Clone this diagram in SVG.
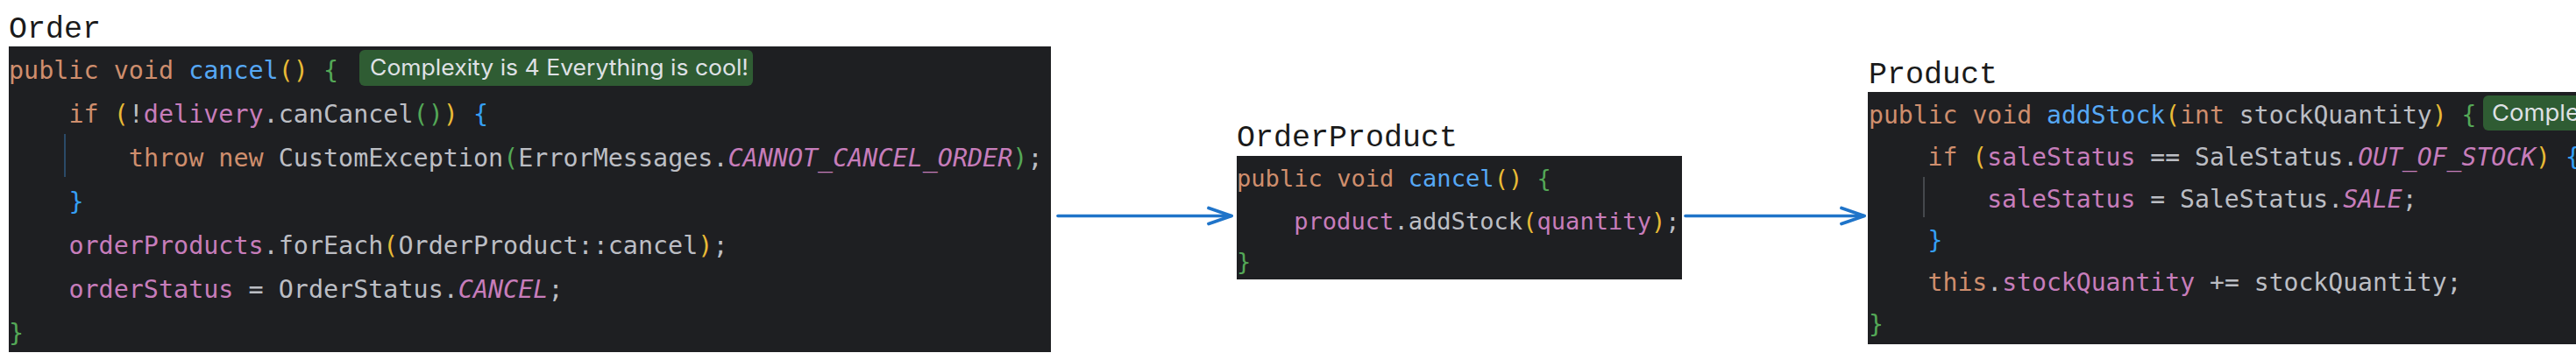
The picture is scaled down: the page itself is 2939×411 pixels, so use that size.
<svg xmlns="http://www.w3.org/2000/svg" width="2939" height="411" viewBox="0 0 2939 411">
  <style>
    .title { font-family: "Liberation Mono", "DejaVu Sans Mono", monospace; font-size: 35px; fill: #1a1a1a; }
    .code { font-family: "DejaVu Sans Mono", "Liberation Mono", monospace; fill: #bcbec4; white-space: pre; }
    .box { fill: #1e1f22; }
    .kw { fill: #cf8e6d; }
    .fn { fill: #56a8f5; }
    .fld { fill: #c77dbb; }
    .cst { fill: #c77dbb; font-style: italic; }
    .y { fill: #e8ba36; }
    .g { fill: #54a857; }
    .b { fill: #359ff4; }
    .badge { fill: #2f5c33; }
    .badgetxt { font-family: "Inter", "Roboto", "Liberation Sans", sans-serif; font-size: 25px; fill: #dfe1e5; }
    .conn { stroke: #1f74c9; stroke-width: 3.6; fill: none; stroke-linecap: round; }
  </style>
  <defs>
    <marker id="chev" markerUnits="userSpaceOnUse" viewBox="-30 -12 34 24" markerWidth="34" markerHeight="24" refX="0" refY="0" orient="auto">
      <path d="M -26 -9 L 0 0 L -26 9" fill="none" stroke="#1f74c9" stroke-width="3.8" stroke-linecap="round" stroke-linejoin="round"/>
    </marker>
  </defs>
  <rect width="2939" height="411" fill="#ffffff"/>

  <g id="order">
    <text class="title" x="10" y="43">Order</text>
    <rect class="box" x="10" y="53" width="1189" height="349"/>
    <line x1="74" y1="153" x2="74" y2="202" stroke="#2b4a68" stroke-width="2"/>
    <g class="code" style="font-size:28.4px">
      <text x="10" y="90"><tspan class="kw">public void </tspan><tspan class="fn">cancel</tspan><tspan class="y">()</tspan> <tspan class="g">{</tspan></text>
      <text x="78.4" y="140"><tspan class="kw">if </tspan><tspan class="y">(</tspan>!<tspan class="fld">delivery</tspan>.canCancel<tspan class="g">()</tspan><tspan class="y">)</tspan> <tspan class="b">{</tspan></text>
      <text x="146.8" y="190"><tspan class="kw">throw new </tspan>CustomException<tspan class="g">(</tspan>ErrorMessages.<tspan class="cst">CANNOT_CANCEL_ORDER</tspan><tspan class="g">)</tspan>;</text>
      <text x="78.4" y="240"><tspan class="b">}</tspan></text>
      <text x="78.4" y="290"><tspan class="fld">orderProducts</tspan>.forEach<tspan class="y">(</tspan>OrderProduct::cancel<tspan class="y">)</tspan>;</text>
      <text x="78.4" y="340"><tspan class="fld">orderStatus</tspan> = OrderStatus.<tspan class="cst">CANCEL</tspan>;</text>
      <text x="10" y="390"><tspan class="g">}</tspan></text>
    </g>
    <rect class="badge" x="410" y="57" width="449" height="41" rx="6"/>
    <text class="badgetxt" x="422" y="86" textLength="432" lengthAdjust="spacingAndGlyphs">Complexity is 4 Everything is cool!</text>
  </g>

  <g id="orderproduct">
    <text class="title" x="1411" y="167">OrderProduct</text>
    <rect class="box" x="1411" y="178" width="508" height="141"/>
    <g class="code" style="font-size:27.1px">
      <text x="1411" y="213"><tspan class="kw">public void </tspan><tspan class="fn">cancel</tspan><tspan class="y">()</tspan> <tspan class="g">{</tspan></text>
      <text x="1476.2" y="262"><tspan class="fld">product</tspan>.addStock<tspan class="y">(</tspan><tspan class="fld">quantity</tspan><tspan class="y">)</tspan>;</text>
      <text x="1411" y="308"><tspan class="g">}</tspan></text>
    </g>
  </g>

  <g id="product">
    <text class="title" x="2132" y="95">Product</text>
    <rect class="box" x="2131" y="105" width="820" height="288"/>
    <line x1="2195" y1="202" x2="2195" y2="248" stroke="#45484d" stroke-width="2"/>
    <g class="code" style="font-size:28.1px">
      <text x="2132" y="141"><tspan class="kw">public void </tspan><tspan class="fn">addStock</tspan><tspan class="y">(</tspan><tspan class="kw">int </tspan>stockQuantity<tspan class="y">)</tspan> <tspan class="g">{</tspan></text>
      <text x="2199.6" y="189"><tspan class="kw">if </tspan><tspan class="y">(</tspan><tspan class="fld">saleStatus</tspan> == SaleStatus.<tspan class="cst">OUT_OF_STOCK</tspan><tspan class="y">)</tspan> <tspan class="b">{</tspan></text>
      <text x="2267.2" y="237"><tspan class="fld">saleStatus</tspan> = SaleStatus.<tspan class="cst">SALE</tspan>;</text>
      <text x="2199.6" y="284"><tspan class="b">}</tspan></text>
      <text x="2199.6" y="332"><tspan class="kw">this</tspan>.<tspan class="fld">stockQuantity</tspan> += stockQuantity;</text>
      <text x="2132" y="380"><tspan class="g">}</tspan></text>
    </g>
    <rect class="badge" x="2833" y="109" width="140" height="40" rx="6"/>
    <text class="badgetxt" x="2843" y="138" textLength="100" lengthAdjust="spacingAndGlyphs" style="font-size:26px">Comple</text>
  </g>

  <g id="connectors">
    <line class="conn" x1="1207" y1="246.5" x2="1405" y2="246.5" marker-end="url(#chev)"/>
    <line class="conn" x1="1923" y1="246.5" x2="2127" y2="246.5" marker-end="url(#chev)"/>
  </g>
</svg>
